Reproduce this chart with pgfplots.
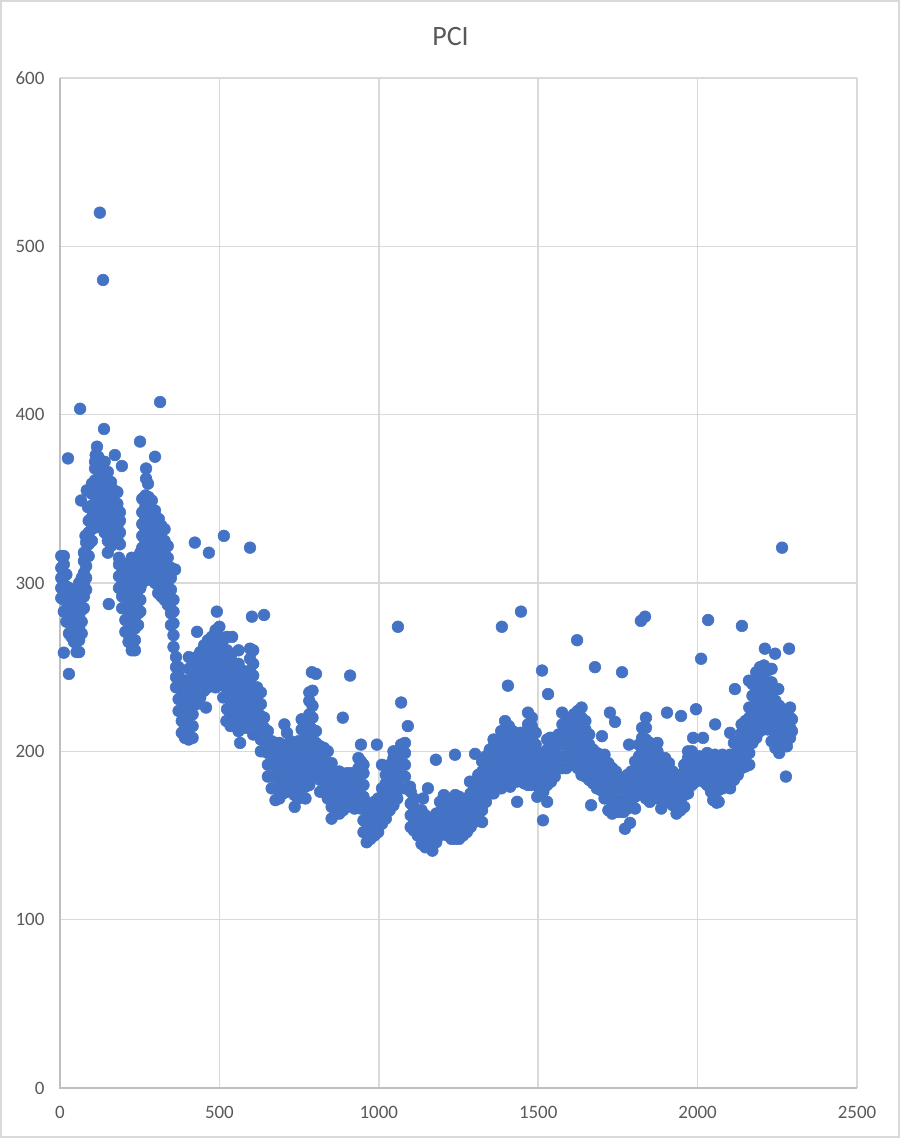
\documentclass[border=0pt]{standalone}
\usepackage{pgfplots}
\pgfplotsset{compat=1.18}
\usepackage{fontspec}
\setmainfont{Carlito}
\definecolor{dot}{HTML}{4472C4}
\definecolor{gridc}{HTML}{D9D9D9}
\definecolor{axisc}{HTML}{BFBFBF}
\definecolor{txt}{HTML}{595959}
\begin{document}
\begin{tikzpicture}[x=1pt,y=1pt]
\useasboundingbox (0,0) rectangle (675,853.5);
\draw[gridc,line width=1.1pt] (0.6,0.6) rectangle (674.4,852.9);
\begin{axis}[
  at={(45pt,37.5pt)},anchor=south west,
  scale only axis,width=597.75pt,height=757.5pt,
  xmin=0,xmax=2500,ymin=0,ymax=600,
  xtick={0,500,...,2500},ytick={0,100,...,600},
  grid=major,
  grid style={gridc,line width=1.2pt},
  axis line style={draw=none},
  major tick length=0pt,
  /pgf/number format/assume math mode=true,
  /pgf/number format/.cd,1000 sep={},/tikz/.cd,
  tick label style={font=\fontsize{14.2}{16}\selectfont,text=txt,inner sep=0pt},
  xticklabel style={yshift=-13.5pt},
  yticklabel style={xshift=-11.5pt},
  title={\fontsize{21}{24}\selectfont\color{txt}PCI},
  title style={at={(rel axis cs:0.49,1)},anchor=center,yshift=25pt},
  clip=false,
]
\draw[axisc,line width=1.2pt] (rel axis cs:0,1) -- (rel axis cs:0,0) -- (rel axis cs:1,0);
\addplot[only marks,mark=*,mark size=4.4pt,mark options={fill=dot,draw=none},color=dot] coordinates {
(4,291)(4,297)(4,303)(4,309)(4,316)
(12,283)(12,290)(12,297)(12,304)(12,311)(12,316)
(20,277)(20,284)(20,291)(20,298)(20,305)
(28,270)(28,277)(28,284)(28,291)(28,297)
(36,268)(36,275)(36,282)(36,289)(36,296)
(44,265)(44,272)(44,279)(44,286)(44,293)
(52,259)(52,267)(52,274)(52,281)(52,288)(52,295)
(60,259)(60,266)(60,273)(60,280)(60,287)(60,295)(60,300)
(68,270)(68,277)(68,284)(68,291)(68,298)(68,303)
(75,285)(75,292)(75,299)(75,306)(75,313)(75,318)
(82,296)(82,303)(82,310)(82,317)(82,324)(80,328)(66,349)
(90,316)(90,323)(90,330)(90,337)(88,345)(84,355)
(100,325)(100,332)(100,339)(100,346)(100,353)(100,359)
(110,333)(110,340)(110,347)(110,354)(110,361)(110,368)(110,372)(112,376)(116,381)
(120,334)(120,341)(120,348)(120,355)(120,362)(120,369)(120,375)
(130,333)(130,340)(130,347)(130,354)(130,361)(130,368)(130,372)
(140,330)(140,338)(140,345)(140,352)(140,359)(140,366)(140,372)
(150,318)(150,325)(150,332)(150,339)(150,346)(150,353)(150,360)(150,366)
(160,322)(160,329)(160,336)(160,343)(160,350)(160,356)(160,360)
(170,325)(170,332)(170,339)(170,346)(170,353)(170,355)
(180,326)(180,333)(180,340)(180,347)(180,354)
(188,323)(188,330)(188,337)(188,342)
(185,297)(185,304)(185,311)(185,315)
(195,285)(195,292)(195,299)(195,306)(195,312)
(205,271)(205,278)(205,285)(205,292)(205,299)(205,306)
(215,265)(215,272)(215,279)(215,286)(215,293)(215,300)(215,305)(215,310)
(225,260)(225,267)(225,274)(225,281)(225,288)(225,295)(225,302)(225,309)(225,315)
(235,260)(235,266)(235,273)(235,280)(235,287)(235,294)(235,301)(235,308)(235,314)
(245,275)(245,282)(245,289)(245,296)(245,303)(245,310)
(252,283)(252,290)(252,297)(252,304)(252,311)(252,318)
(258,300)(258,307)(258,314)(258,321)(258,328)(258,335)(258,342)(258,350)
(268,304)(268,311)(268,318)(268,325)(268,332)(268,339)(268,346)(268,352)
(278,302)(278,309)(278,316)(278,323)(278,330)(278,337)(278,344)(278,351)
(288,306)(288,313)(288,320)(288,327)(288,334)(288,341)(288,349)
(298,300)(298,307)(298,314)(298,321)(298,328)(298,335)(298,343)
(308,294)(308,301)(308,308)(308,315)(308,322)(308,329)(308,336)(310,338)
(318,292)(318,299)(318,306)(318,313)(318,320)(318,327)(318,334)
(328,290)(328,297)(328,304)(328,311)(328,318)(328,325)(328,332)
(338,287)(338,294)(338,301)(338,308)(338,315)(338,322)
(348,275)(348,282)(348,289)(348,296)(348,303)(348,309)
(356,262)(356,269)(356,276)(356,283)(356,290)
(364,238)(364,244)(364,250)(364,256)
(372,224)(372,231)(372,238)(372,245)(372,250)
(382,211)(382,218)(382,225)(382,232)(382,240)
(392,208)(392,214)(392,221)(392,228)(392,235)(392,242)
(404,207)(404,214)(404,221)(404,228)(404,235)(404,242)(404,249)(404,256)
(416,208)(416,215)(416,222)(416,229)(416,236)(416,243)(416,250)
(428,228)(428,235)(428,242)(428,249)(428,256)
(440,232)(440,239)(440,246)(440,253)(440,259)
(452,236)(452,243)(452,250)(452,257)(452,263)
(464,238)(464,245)(464,252)(464,259)(464,266)
(476,240)(476,247)(476,254)(476,261)(476,268)
(488,238)(488,245)(488,252)(488,259)(488,266)(488,272)
(500,240)(500,247)(500,254)(500,261)(500,268)(500,274)
(512,232)(512,239)(512,246)(512,253)(512,260)(512,266)
(524,225)(524,232)(524,239)(524,246)(524,253)(524,260)(524,268)
(536,222)(536,229)(536,236)(536,243)(536,250)(536,256)
(548,218)(548,225)(548,232)(548,239)(548,246)(548,252)
(560,212)(560,219)(560,226)(560,233)(560,240)(560,247)(560,252)(560,260)
(572,214)(572,221)(572,228)(572,235)(572,242)(572,248)
(584,218)(584,225)(584,232)(584,239)(584,245)
(596,220)(596,227)(596,234)(596,241)(596,248)(596,255)(596,261)
(606,210)(606,217)(606,224)(606,231)(606,238)(606,245)(606,252)(606,260)
(618,210)(618,217)(618,224)(618,231)(618,238)
(630,200)(630,207)(630,214)(630,221)(630,228)(630,235)
(640,200)(640,207)(640,214)(640,220)
(652,185)(652,192)(652,199)(652,206)(652,212)
(664,178)(664,185)(664,192)(664,199)(664,206)
(676,171)(676,178)(676,185)(676,192)(676,199)(676,205)
(688,172)(688,179)(688,186)(688,193)(688,200)(688,205)
(700,175)(700,182)(700,189)(700,196)(700,203)(704,216)
(712,176)(712,183)(712,190)(712,197)(712,204)(712,211)
(724,178)(724,185)(724,192)(724,199)(724,206)
(736,167)(736,174)(736,181)(736,188)(736,195)(736,201)
(748,172)(748,179)(748,186)(748,193)(748,200)(748,206)
(758,178)(758,185)(758,192)(758,199)(758,206)(758,213)(758,219)
(770,172)(770,179)(770,186)(770,193)(770,200)(770,207)(770,214)(770,218)
(782,180)(782,187)(782,194)(782,201)(782,208)(782,215)(782,222)(782,230)(782,235)
(792,185)(792,192)(792,199)(792,206)(792,213)(792,220)(792,227)(792,236)(790,247)
(803,185)(803,192)(803,199)(803,205)(803,212)(803,246)
(816,176)(816,183)(816,190)(816,197)(816,203)
(828,176)(828,183)(828,190)(828,197)(828,202)
(840,172)(840,179)(840,186)(840,193)(840,200)
(852,160)(852,167)(852,174)(852,181)(852,188)(852,193)
(864,165)(864,172)(864,179)(864,186)
(876,163)(876,170)(876,177)(876,184)(876,188)
(888,165)(888,172)(888,179)(888,186)(887,220)
(900,167)(900,174)(900,181)(900,187)(910,245)
(912,168)(912,175)(912,182)(912,187)
(924,166)(924,173)(924,180)(924,186)
(936,170)(936,177)(936,184)(936,190)(936,196)
(944,166)(944,173)(944,180)(944,187)(944,194)(944,204)
(952,152)(952,159)(952,166)(952,173)(952,180)(952,187)(952,192)
(962,146)(962,153)(962,160)(962,167)
(974,148)(974,155)(974,162)(974,169)
(986,150)(986,157)(986,164)(986,170)
(998,152)(998,159)(998,166)(998,172)(994,204)
(1010,157)(1010,164)(1010,171)(1010,178)(1010,192)
(1022,160)(1022,167)(1022,174)(1022,181)(1022,186)
(1034,165)(1034,172)(1034,179)(1034,186)(1034,192)
(1046,168)(1046,175)(1046,182)(1046,189)(1046,196)(1046,200)
(1058,172)(1058,179)(1058,186)(1058,193)(1058,199)
(1070,178)(1070,185)(1070,192)(1070,199)(1070,204)
(1082,178)(1082,185)(1082,192)(1082,199)(1082,205)
(1100,155)(1100,162)(1100,169)(1100,176)
(1110,153)(1110,160)(1110,167)(1110,172)
(1122,150)(1122,157)(1122,164)
(1134,145)(1134,152)(1134,159)(1134,165)
(1146,143)(1146,150)(1146,157)(1146,162)
(1158,144)(1158,151)(1158,158)
(1168,141)(1168,147)(1168,154)(1168,160)
(1180,146)(1180,152)(1180,158)(1180,163)
(1192,150)(1192,157)(1192,164)(1192,170)
(1204,155)(1204,162)(1204,168)(1204,174)
(1216,150)(1216,157)(1216,164)(1216,172)
(1228,148)(1228,155)(1228,162)(1228,170)
(1240,148)(1240,154)(1240,161)(1240,168)(1240,174)
(1252,148)(1252,154)(1252,160)(1252,167)(1252,173)
(1264,150)(1264,156)(1264,163)(1264,168)
(1276,152)(1276,159)(1276,166)(1276,172)
(1288,155)(1288,162)(1288,169)(1288,175)
(1300,158)(1300,165)(1300,172)(1300,178)
(1312,160)(1312,167)(1312,174)(1312,180)(1312,186)
(1324,158)(1324,165)(1324,172)(1324,180)(1324,188)(1324,194)
(1336,170)(1336,177)(1336,184)(1336,191)(1336,197)
(1348,175)(1348,182)(1348,189)(1348,196)(1348,201)
(1360,175)(1360,182)(1360,189)(1360,196)(1360,203)(1360,207)
(1372,178)(1372,185)(1372,192)(1372,199)(1372,206)
(1384,178)(1384,185)(1384,192)(1384,199)(1384,206)(1384,212)
(1396,182)(1396,189)(1396,196)(1396,203)(1396,210)(1396,218)
(1408,180)(1408,187)(1408,194)(1408,201)(1408,208)(1408,215)
(1420,186)(1420,193)(1420,200)(1420,207)(1420,212)
(1432,182)(1432,189)(1432,196)(1432,203)(1432,209)
(1444,184)(1444,191)(1444,198)(1444,205)(1444,211)
(1456,181)(1456,188)(1456,195)(1456,202)(1456,210)
(1468,180)(1468,187)(1468,194)(1468,201)(1468,208)(1468,216)(1468,223)
(1480,180)(1480,187)(1480,194)(1480,201)(1480,208)(1480,215)(1480,220)
(1492,183)(1492,190)(1492,197)(1492,204)(1492,211)
(1504,178)(1504,185)(1504,192)(1504,199)
(1516,176)(1516,183)(1516,190)(1516,198)
(1528,180)(1528,187)(1528,194)(1528,201)(1528,207)
(1540,182)(1540,189)(1540,196)(1540,203)(1540,208)
(1552,185)(1552,192)(1552,199)(1552,204)
(1564,190)(1564,197)(1564,204)(1564,210)
(1576,190)(1576,197)(1576,204)(1576,211)(1576,216)
(1588,190)(1588,197)(1588,204)(1588,211)(1588,218)
(1600,192)(1600,199)(1600,206)(1600,213)(1600,220)
(1612,195)(1612,202)(1612,209)(1612,216)(1612,222)
(1624,190)(1624,197)(1624,204)(1624,211)(1624,218)(1624,224)
(1636,186)(1636,193)(1636,200)(1636,207)(1636,214)(1636,220)(1636,226)
(1648,185)(1648,192)(1648,199)(1648,206)(1648,213)(1648,218)
(1660,183)(1660,190)(1660,197)(1660,204)(1660,210)
(1672,181)(1672,188)(1672,195)(1672,201)
(1684,178)(1684,185)(1684,192)(1684,199)
(1696,177)(1696,184)(1696,191)(1696,198)
(1708,172)(1708,179)(1708,186)(1708,193)(1708,198)
(1720,165)(1720,172)(1720,179)(1720,186)(1720,193)
(1732,163)(1732,170)(1732,177)(1732,184)(1732,190)
(1744,164)(1744,171)(1744,178)(1744,185)(1744,188)
(1756,164)(1756,171)(1756,178)(1756,184)
(1768,164)(1768,171)(1768,178)(1768,184)
(1780,166)(1780,173)(1780,180)(1780,186)
(1792,168)(1792,175)(1792,182)(1792,188)
(1804,166)(1804,173)(1804,180)(1804,187)(1804,194)
(1816,176)(1816,183)(1816,190)(1816,197)(1816,204)
(1826,180)(1826,187)(1826,194)(1826,201)(1826,208)(1826,214)
(1838,172)(1838,179)(1838,186)(1838,193)(1838,200)(1838,207)(1838,214)(1838,220)
(1850,170)(1850,177)(1850,184)(1850,191)(1850,198)(1850,205)
(1862,174)(1862,181)(1862,188)(1862,195)(1862,203)
(1874,172)(1874,179)(1874,186)(1874,193)(1874,200)(1874,205)
(1886,166)(1886,173)(1886,180)(1886,187)(1886,194)
(1898,170)(1898,177)(1898,184)(1898,191)(1898,196)
(1910,172)(1910,179)(1910,186)(1910,193)
(1922,168)(1922,175)(1922,182)(1922,188)
(1934,163)(1934,170)(1934,177)(1934,184)
(1946,165)(1946,172)(1946,179)(1946,186)
(1958,167)(1958,174)(1958,181)(1958,188)(1958,192)
(1970,175)(1970,182)(1970,189)(1970,196)(1970,200)
(1982,180)(1982,187)(1982,194)(1982,200)(1986,208)
(1994,182)(1994,189)(1994,196)
(2006,184)(2006,191)(2006,197)(2017,208)
(2018,182)(2018,189)(2018,196)
(2030,180)(2030,187)(2030,194)(2030,199)
(2042,176)(2042,183)(2042,190)(2042,197)
(2054,171)(2054,178)(2054,185)(2054,192)(2054,198)
(2066,170)(2066,177)(2066,184)(2066,191)(2066,197)
(2078,178)(2078,185)(2078,192)(2078,198)
(2090,180)(2090,187)(2090,194)(2090,197)
(2102,178)(2102,185)(2102,192)(2102,198)
(2114,183)(2114,190)(2114,197)(2114,205)
(2126,186)(2126,193)(2126,200)(2126,206)
(2138,190)(2138,197)(2138,204)(2138,211)(2138,216)
(2150,191)(2150,198)(2150,205)(2150,212)(2150,218)
(2162,192)(2162,199)(2162,206)(2162,213)(2162,220)(2162,226)(2161,242)
(2172,205)(2172,212)(2172,219)(2172,226)(2172,233)(2172,240)
(2184,208)(2184,215)(2184,222)(2184,229)(2184,236)(2184,243)(2184,247)
(2196,212)(2196,219)(2196,226)(2196,233)(2196,240)(2196,247)(2196,250)
(2208,214)(2208,221)(2208,228)(2208,235)(2208,242)(2208,249)(2208,251)
(2220,213)(2220,220)(2220,227)(2220,234)(2220,241)(2220,248)
(2232,206)(2232,213)(2232,220)(2232,227)(2232,234)(2232,241)(2232,249)
(2244,202)(2244,209)(2244,216)(2244,223)(2244,230)(2244,237)
(2256,199)(2256,206)(2256,213)(2256,220)(2256,227)(2253,237)
(2268,203)(2268,210)(2268,217)(2268,224)
(2280,203)(2280,210)(2280,217)(2280,224)
(2290,208)(2290,214)(2290,220)(2290,226)
(2296,212)(2296,219)
(125,520)(135,480)(63,403.5)(314,407.5)(138,391.5)(25,374)(251,384)(298,375)(172,376)(194,369.5)(270,368)(270,362)(276,359)
(361,308)(153,287.5)(12,258.6)(28,246)
(423,324)(467,318)(514,328)(596,321)(602,280)(640,281)(430,271)(458,226)(492,271)(492,283)(565,205)(583,214)(540,268)(522,218)(535,215)
(1060,274)(1070,229)(1091,215)(1098,179)(1154,178)(1139,172)(1179,195)(1239,198)(1302,198.5)(1286,182)
(1386,274)(1446,283)(1405,239)(1512,248)(1531,234)(1622,266)(1678,250)(1575,223)(1537,208)(1412,179)(1434,170)(1497,173)(1528,170)(1515,159)(1666,168)
(1822,277.5)(1835,280)(2033,278)(2139,274.5)(2211,261)(2243,258)(2287,261)(2011,255)(2117,237)(1904,223)(1948,221)(1995,225)(2055,216)(2102,211)(1763,247)(1725,223)(1741,217.5)(1700,209)(1785,204)(1772,154)(1788,157.5)(2277,185)(2265,321)(2049,171)(2060,169.5)
};
\end{axis}
\end{tikzpicture}
\end{document}
